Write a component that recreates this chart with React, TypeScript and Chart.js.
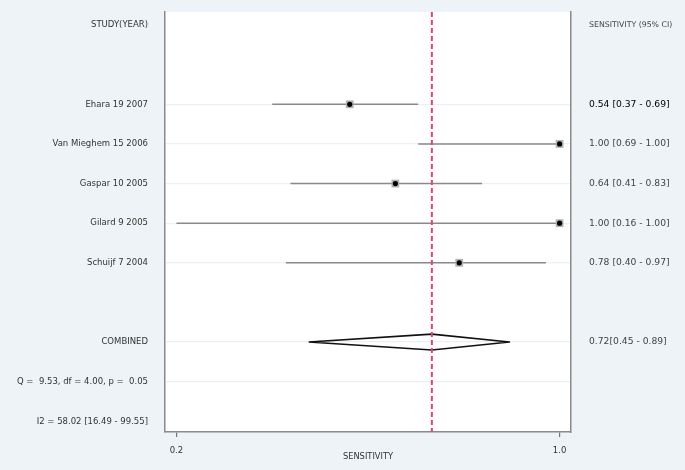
import React, { useEffect, useRef } from "react";
import { Chart, registerables } from "chart.js";

Chart.register(...registerables);

// ---- data ----
const studies = ["Ehara 19 2007", "Van Mieghem 15 2006", "Gaspar 10 2005", "Gilard 9 2005", "Schuijf 7 2004"];
const sensitivity = [0.54, 1.0, 0.64, 1.0, 0.78];
const lowerCI = [0.37, 0.69, 0.41, 0.16, 0.4];
const upperCI = [0.69, 1.0, 0.83, 1.0, 0.97];
const ciLabels = ["0.54 [0.37 - 0.69]", "1.00 [0.69 - 1.00]", "0.64 [0.41 - 0.83]", "1.00 [0.16 - 1.00]", "0.78 [0.40 - 0.97]"];
const combined = { est: 0.72, lo: 0.45, hi: 0.89, label: "0.72[0.45 - 0.89]" };
const statLines = ["Q =  9.53, df = 4.00, p =  0.05", "I2 = 58.02 [16.49 - 99.55]"];
const xTickValues = [0.16, 1.0];
const xTickLabels = ["0.2", "1.0"];

// row layout (row index on the vertical axis)
const headerRow = 0;
const studyRows = [2, 3, 4, 5, 6];
const combinedRow = 8;
const statRows = [9, 10];
const Y_MIN = -0.33;
const Y_MAX = 10.27;

const leftLabels: Record<number, string> = { [headerRow]: "STUDY(YEAR)", [combinedRow]: "COMBINED" };
studyRows.forEach((r, i) => (leftLabels[r] = studies[i]));
statRows.forEach((r, i) => (leftLabels[r] = statLines[i]));
const rightLabels: Record<number, string> = { [headerRow]: "SENSITIVITY (95% CI)", [combinedRow]: combined.label };
studyRows.forEach((r, i) => (rightLabels[r] = ciLabels[i]));
const gridRows = [...studyRows, combinedRow, statRows[0]];

const FONT = "'DejaVu Sans', sans-serif";

const noPad = (s: any) => {
  s.paddingTop = 0;
  s.paddingBottom = 0;
};

export default function App() {
  const ref = useRef<HTMLCanvasElement | null>(null);
  useEffect(() => {
    document.body.style.margin = "0";
    const canvas = ref.current!;
    const bgPlugin = {
      id: "bg",
      beforeDraw(chart: any) {
        const { ctx, chartArea } = chart;
        ctx.save();
        ctx.fillStyle = "#edf3f6";
        ctx.fillRect(0, 0, chart.width, chart.height);
        ctx.fillStyle = "#ffffff";
        ctx.fillRect(chartArea.left, chartArea.top, chartArea.right - chartArea.left, chartArea.bottom - chartArea.top);
        ctx.restore();
      },
    };

    const ciDatasets = studies.map((s, i) => ({
      label: s,
      data: [
        { x: lowerCI[i], y: studyRows[i] },
        { x: upperCI[i], y: studyRows[i] },
      ],
      showLine: true,
      borderColor: "#8a8a8a",
      borderWidth: 1.6,
      pointRadius: 0,
      order: 5,
    }));

    const chart = new Chart(canvas, {
      type: "scatter",
      data: {
        datasets: [
          ...ciDatasets,
          {
            label: "combined",
            data: [
              { x: combined.lo, y: combinedRow },
              { x: combined.est, y: combinedRow - 0.2 },
              { x: combined.hi, y: combinedRow },
              { x: combined.est, y: combinedRow + 0.2 },
              { x: combined.lo, y: combinedRow },
            ],
            showLine: true,
            borderColor: "#111111",
            borderWidth: 1.6,
            borderJoinStyle: "round",
            pointRadius: 0,
            order: 4,
          } as any,
          {
            label: "weights",
            data: sensitivity.map((v, i) => ({ x: v, y: studyRows[i] })),
            pointStyle: "rect",
            pointRadius: 5.5,
            backgroundColor: "#b0b0b0",
            borderColor: "#a0a0a0",
            borderWidth: 0,
            order: 3,
          },
          {
            label: "estimates",
            data: sensitivity.map((v, i) => ({ x: v, y: studyRows[i] })),
            pointStyle: "circle",
            pointRadius: 2.6,
            backgroundColor: "#000000",
            borderWidth: 0,
            order: 2,
          },
          {
            label: "pooled",
            data: [
              { x: combined.est, y: Y_MIN },
              { x: combined.est, y: Y_MAX },
            ],
            showLine: true,
            borderColor: "#d8457a",
            borderWidth: 2,
            borderDash: [5, 3],
            pointRadius: 0,
            order: 1,
          },
        ],
      },
      options: {
        responsive: false,
        animation: false,
        devicePixelRatio: 1,
        layout: { padding: { top: 12, bottom: 0, left: 0, right: 0 } },
        plugins: { legend: { display: false }, tooltip: { enabled: false } },
        scales: {
          x: {
            type: "linear",
            min: 0.135,
            max: 1.025,
            afterBuildTicks: (s: any) => {
              s.ticks = xTickValues.map((v) => ({ value: v }));
            },
            afterFit: (s: any) => {
              s.height = 38;
            },
            ticks: {
              callback: (v: any) => {
                const i = xTickValues.findIndex((t) => Math.abs(t - v) < 1e-9);
                return i >= 0 ? xTickLabels[i] : "";
              },
              font: { family: FONT, size: 8.5 },
              color: "#333",
              padding: 9,
              maxRotation: 0,
              autoSkip: false,
            },
            grid: { drawOnChartArea: false, drawTicks: true, tickLength: 5, color: "#777", lineWidth: 1.2 },
            border: { display: true, color: "#8a8a8a", width: 1.5 },
            title: { display: true, text: "SENSITIVITY", font: { family: FONT, size: 8.3 }, color: "#333", padding: { top: 0, bottom: 8 } },
          },
          y: {
            type: "linear",
            position: "left",
            min: Y_MIN,
            max: Y_MAX,
            reverse: true,
            afterBuildTicks: (s: any) => {
              s.ticks = Object.keys(leftLabels).map((k) => ({ value: Number(k) }));
            },
            afterFit: (s: any) => {
              s.width = 165;
              noPad(s);
            },
            ticks: {
              callback: (v: any) => leftLabels[v] ?? "",
              font: { family: FONT, size: 8.5 },
              color: "#333",
              padding: 17,
              autoSkip: false,
            },
            grid: {
              drawTicks: false,
              color: (c: any) => (c.tick && gridRows.includes(c.tick.value) ? "#edf0f1" : "rgba(0,0,0,0)"),
              lineWidth: 1.2,
            },
            border: { display: true, color: "#8a8a8a", width: 1.5 },
          },
          y2: {
            type: "linear",
            position: "right",
            min: Y_MIN,
            max: Y_MAX,
            reverse: true,
            afterBuildTicks: (s: any) => {
              s.ticks = Object.keys(rightLabels).map((k) => ({ value: Number(k) }));
            },
            afterFit: (s: any) => {
              s.width = 114;
              noPad(s);
            },
            ticks: {
              callback: (v: any) => rightLabels[v] ?? "",
              font: (c: any) => ({ family: FONT, size: c.tick && c.tick.value === headerRow ? 7.8 : 9.2 }),
              color: (c: any) => (c.tick && c.tick.value === studyRows[0] ? "#000" : "#444"),
              padding: 18,
              autoSkip: false,
            },
            grid: { display: false, drawTicks: false, drawOnChartArea: false },
            border: { display: true, color: "#8a8a8a", width: 1.5 },
          },
        },
      } as any,
      plugins: [bgPlugin],
    });
    return () => chart.destroy();
  }, []);
  return <canvas ref={ref} width={685} height={470} style={{ display: "block", width: 685, height: 470 }} />;
}
